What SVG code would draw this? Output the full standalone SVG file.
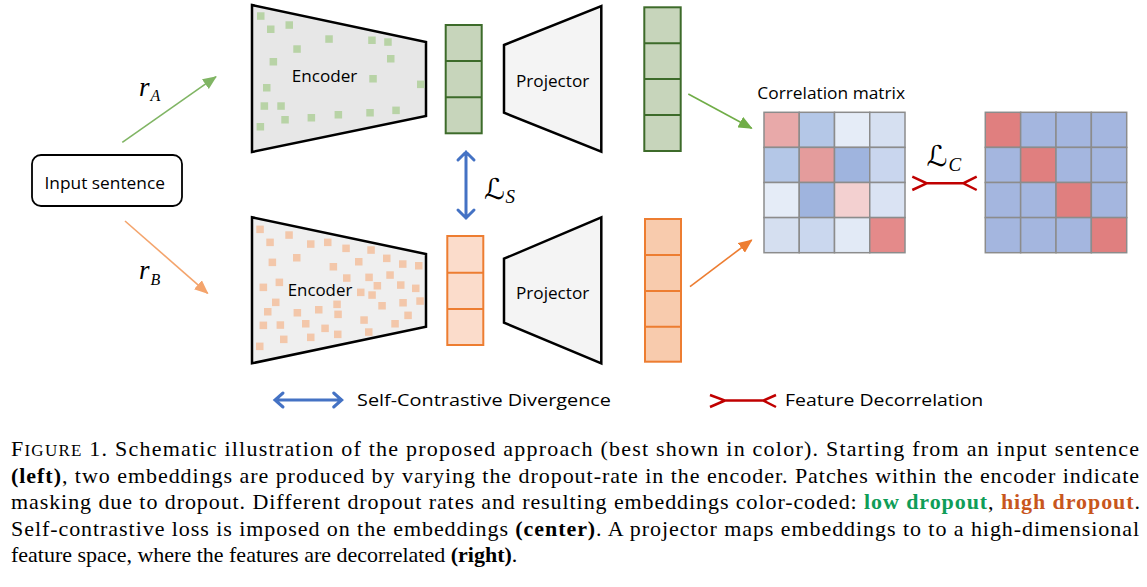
<svg xmlns="http://www.w3.org/2000/svg" width="1147" height="587" viewBox="0 0 1147 587">
<style>
.lbl{font-family:"Open Sans","Lato",sans-serif;fill:#000;}
.cap{font-family:"Liberation Serif","Times New Roman",serif;font-size:22px;fill:#000;}
.b{font-weight:bold;}
.math{font-family:"Liberation Serif",serif;font-style:italic;fill:#000;}
.scr{font-family:"DejaVu Serif","DejaVu Sans",serif;fill:#000;}
.enc{stroke:#000;stroke-width:2.5;stroke-linejoin:miter;}
.proj{fill:#f4f4f4;stroke:#000;stroke-width:2.5;}
.gsq{fill:#b3d1a0;opacity:0.9;}
.osq{fill:#f4c3a3;opacity:0.9;}
.gemb{fill:#c7d5bb;stroke:#3d6b2a;stroke-width:2;}
.oemb1{fill:#fbdccb;stroke:#ed7d31;stroke-width:2;}
.oemb2{fill:#f8cbad;stroke:#ed7d31;stroke-width:2;}
.grid{stroke:#8c8c8c;stroke-width:1.5;}
.blue{fill:none;stroke:#4472c4;stroke-width:3;stroke-linecap:round;}
.red{fill:none;stroke:#c00000;stroke-width:2.5;}
</style>
<defs>
<marker id="ag" markerWidth="14" markerHeight="12" refX="13" refY="6" orient="auto" markerUnits="userSpaceOnUse"><path d="M0,0 L14,6 L0,12 Z" fill="#70ad47"/></marker>
<marker id="ag2" markerWidth="14" markerHeight="12" refX="13" refY="6" orient="auto" markerUnits="userSpaceOnUse"><path d="M0,0 L14,6 L0,12 Z" fill="#80b564"/></marker>
<marker id="ao" markerWidth="14" markerHeight="12" refX="13" refY="6" orient="auto" markerUnits="userSpaceOnUse"><path d="M0,0 L14,6 L0,12 Z" fill="#ed7d31"/></marker>
<marker id="ao2" markerWidth="14" markerHeight="12" refX="13" refY="6" orient="auto" markerUnits="userSpaceOnUse"><path d="M0,0 L14,6 L0,12 Z" fill="#f4a46c"/></marker>
</defs>

<g id="input">
<rect x="32" y="155" width="150" height="51" rx="9" fill="#fff" stroke="#000" stroke-width="1.8"/>
<text class="lbl" x="44.5" y="188.5" font-size="17" textLength="120.5" lengthAdjust="spacingAndGlyphs">Input sentence</text>
</g>

<g id="encoderA">
<polygon class="enc" fill="#e7e7e7" points="252,5 426,42 426,116 252,152"/>
<g class="gsq">
<rect x="257" y="12.3" width="7.5" height="7.5"/><rect x="267" y="25.5" width="7.5" height="7.5"/><rect x="285.5" y="21.3" width="7.5" height="7.5"/>
<rect x="325.3" y="35.3" width="7.5" height="7.5"/><rect x="368.2" y="36.5" width="7.5" height="7.5"/><rect x="384.2" y="38.3" width="7.5" height="7.5"/>
<rect x="293.3" y="45.3" width="7.5" height="7.5"/><rect x="269.6" y="58" width="7.5" height="7.5"/><rect x="387" y="55" width="7.5" height="7.5"/>
<rect x="369.3" y="75" width="7.5" height="7.5"/><rect x="417" y="80.6" width="7.5" height="7.5"/><rect x="263" y="84" width="7.5" height="7.5"/>
<rect x="260.6" y="102.3" width="7.5" height="7.5"/><rect x="277.3" y="102.3" width="7.5" height="7.5"/><rect x="281.3" y="116" width="7.5" height="7.5"/>
<rect x="307.6" y="114" width="7.5" height="7.5"/><rect x="334.6" y="111" width="7.5" height="7.5"/><rect x="366.3" y="109" width="7.5" height="7.5"/>
<rect x="392.3" y="106.6" width="7.5" height="7.5"/><rect x="256.6" y="123" width="7.5" height="7.5"/>
</g>
<text class="lbl" x="291.7" y="81.7" font-size="17" textLength="65.6" lengthAdjust="spacingAndGlyphs">Encoder</text>
</g>

<g id="encoderB">
<polygon class="enc" fill="#efefef" points="252,217.3 426,254 426,326.7 252,363.3"/>
<g class="osq">
<rect x="256.3" y="225.6" width="7.5" height="7.5"/><rect x="266.3" y="238.6" width="7.5" height="7.5"/><rect x="285.3" y="231.3" width="7.5" height="7.5"/>
<rect x="307" y="240.3" width="7.5" height="7.5"/><rect x="324" y="238.6" width="7.5" height="7.5"/><rect x="342.3" y="244.6" width="7.5" height="7.5"/>
<rect x="367.3" y="246.3" width="7.5" height="7.5"/><rect x="293" y="254" width="7.5" height="7.5"/><rect x="268.6" y="258.6" width="7.5" height="7.5"/>
<rect x="329.6" y="263" width="7.5" height="7.5"/><rect x="355" y="258" width="7.5" height="7.5"/><rect x="383" y="254.6" width="7.5" height="7.5"/>
<rect x="399" y="260.3" width="7.5" height="7.5"/><rect x="415" y="262" width="7.5" height="7.5"/><rect x="343" y="274.3" width="7.5" height="7.5"/>
<rect x="365.3" y="273.6" width="7.5" height="7.5"/><rect x="386.3" y="271.3" width="7.5" height="7.5"/><rect x="275.6" y="278.6" width="7.5" height="7.5"/>
<rect x="259.6" y="283.6" width="7.5" height="7.5"/><rect x="373.6" y="282" width="7.5" height="7.5"/><rect x="397" y="281.3" width="7.5" height="7.5"/>
<rect x="412" y="284.6" width="7.5" height="7.5"/><rect x="357" y="288.6" width="7.5" height="7.5"/><rect x="368.3" y="291.3" width="7.5" height="7.5"/>
<rect x="272" y="298.6" width="7.5" height="7.5"/><rect x="333.3" y="300.6" width="7.5" height="7.5"/><rect x="416.3" y="297.3" width="7.5" height="7.5"/>
<rect x="399.3" y="299" width="7.5" height="7.5"/><rect x="378.3" y="302" width="7.5" height="7.5"/><rect x="264" y="308" width="7.5" height="7.5"/>
<rect x="293.6" y="309" width="7.5" height="7.5"/><rect x="315" y="306" width="7.5" height="7.5"/><rect x="334.3" y="310.6" width="7.5" height="7.5"/>
<rect x="404.3" y="311.6" width="7.5" height="7.5"/><rect x="360.3" y="316.3" width="7.5" height="7.5"/><rect x="259.6" y="321.6" width="7.5" height="7.5"/>
<rect x="276.6" y="321.3" width="7.5" height="7.5"/><rect x="302" y="320" width="7.5" height="7.5"/><rect x="321.3" y="324.6" width="7.5" height="7.5"/>
<rect x="391.3" y="320" width="7.5" height="7.5"/><rect x="280" y="335.6" width="7.5" height="7.5"/><rect x="307" y="333.6" width="7.5" height="7.5"/>
<rect x="334" y="330.6" width="7.5" height="7.5"/><rect x="365" y="328.3" width="7.5" height="7.5"/><rect x="256" y="342.6" width="7.5" height="7.5"/>
</g>
<text class="lbl" x="287.7" y="295.7" font-size="17" textLength="64.6" lengthAdjust="spacingAndGlyphs">Encoder</text>
</g>

<g id="embA">
<rect class="gemb" x="445.7" y="25" width="36" height="108.3"/>
<line class="gemb" x1="445.7" y1="61" x2="481.7" y2="61"/>
<line class="gemb" x1="445.7" y1="97.3" x2="481.7" y2="97.3"/>
</g>
<g id="embB">
<rect class="oemb1" x="447.3" y="236" width="36" height="109"/>
<line class="oemb1" x1="447.3" y1="272.7" x2="483.3" y2="272.7"/>
<line class="oemb1" x1="447.3" y1="309" x2="483.3" y2="309"/>
</g>

<g id="projA">
<polygon class="proj" points="504,45 601.3,6 601.3,151.7 504,112.7"/>
<text class="lbl" x="516" y="87.3" font-size="17" textLength="73.3" lengthAdjust="spacingAndGlyphs">Projector</text>
</g>
<g id="projB">
<polygon class="proj" points="504,258.7 601.3,217.3 601.3,363.3 504,322.7"/>
<text class="lbl" x="516" y="299" font-size="17" textLength="73.3" lengthAdjust="spacingAndGlyphs">Projector</text>
</g>

<g id="featA">
<rect class="gemb" x="644.3" y="7.3" width="36.4" height="143.7"/>
<line class="gemb" x1="644.3" y1="43.3" x2="680.7" y2="43.3"/>
<line class="gemb" x1="644.3" y1="79" x2="680.7" y2="79"/>
<line class="gemb" x1="644.3" y1="115" x2="680.7" y2="115"/>
</g>
<g id="featB">
<rect class="oemb2" x="645" y="219" width="36" height="142.7"/>
<line class="oemb2" x1="645" y1="255" x2="681" y2="255"/>
<line class="oemb2" x1="645" y1="291" x2="681" y2="291"/>
<line class="oemb2" x1="645" y1="326.7" x2="681" y2="326.7"/>
</g>

<g id="corr">
<text class="lbl" x="757.3" y="99" font-size="16" textLength="147.7" lengthAdjust="spacingAndGlyphs">Correlation matrix</text>
<g class="grid">
<rect x="764" y="112.3" width="35.25" height="35.1" fill="#e8a9a9"/><rect x="799.25" y="112.3" width="35.25" height="35.1" fill="#b4c7e7"/><rect x="834.5" y="112.3" width="35.25" height="35.1" fill="#e5ecf7"/><rect x="869.75" y="112.3" width="35.25" height="35.1" fill="#d6e0f1"/>
<rect x="764" y="147.4" width="35.25" height="35.1" fill="#b4c7e7"/><rect x="799.25" y="147.4" width="35.25" height="35.1" fill="#e49c9c"/><rect x="834.5" y="147.4" width="35.25" height="35.1" fill="#9fb4de"/><rect x="869.75" y="147.4" width="35.25" height="35.1" fill="#c9d6ee"/>
<rect x="764" y="182.5" width="35.25" height="35.1" fill="#e5ecf7"/><rect x="799.25" y="182.5" width="35.25" height="35.1" fill="#9fb4de"/><rect x="834.5" y="182.5" width="35.25" height="35.1" fill="#f3d0d0"/><rect x="869.75" y="182.5" width="35.25" height="35.1" fill="#dae3f3"/>
<rect x="764" y="217.6" width="35.25" height="35.1" fill="#d5dff0"/><rect x="799.25" y="217.6" width="35.25" height="35.1" fill="#cad7ee"/><rect x="834.5" y="217.6" width="35.25" height="35.1" fill="#e2eaf6"/><rect x="869.75" y="217.6" width="35.25" height="35.1" fill="#e48a8a"/>
</g>
</g>

<g id="target">
<g class="grid">
<rect x="985.3" y="112.3" width="35.35" height="35.1" fill="#e07f7f"/><rect x="1020.65" y="112.3" width="35.35" height="35.1" fill="#a4b6df"/><rect x="1056" y="112.3" width="35.35" height="35.1" fill="#a4b6df"/><rect x="1091.35" y="112.3" width="35.35" height="35.1" fill="#a4b6df"/>
<rect x="985.3" y="147.4" width="35.35" height="35.1" fill="#a4b6df"/><rect x="1020.65" y="147.4" width="35.35" height="35.1" fill="#e07f7f"/><rect x="1056" y="147.4" width="35.35" height="35.1" fill="#a4b6df"/><rect x="1091.35" y="147.4" width="35.35" height="35.1" fill="#a4b6df"/>
<rect x="985.3" y="182.5" width="35.35" height="35.1" fill="#a4b6df"/><rect x="1020.65" y="182.5" width="35.35" height="35.1" fill="#a4b6df"/><rect x="1056" y="182.5" width="35.35" height="35.1" fill="#e07f7f"/><rect x="1091.35" y="182.5" width="35.35" height="35.1" fill="#a4b6df"/>
<rect x="985.3" y="217.6" width="35.35" height="35.1" fill="#a4b6df"/><rect x="1020.65" y="217.6" width="35.35" height="35.1" fill="#a4b6df"/><rect x="1056" y="217.6" width="35.35" height="35.1" fill="#a4b6df"/><rect x="1091.35" y="217.6" width="35.35" height="35.1" fill="#e07f7f"/>
</g>
</g>

<g id="connectors">
<line x1="122.3" y1="142.3" x2="216" y2="76.7" stroke="#80b564" stroke-width="1.6" marker-end="url(#ag2)"/>
<line x1="125" y1="221" x2="207.7" y2="293.3" stroke="#f4a46c" stroke-width="1.6" marker-end="url(#ao2)"/>
<line x1="688.3" y1="94" x2="751.7" y2="128.3" stroke="#70ad47" stroke-width="1.6" marker-end="url(#ag)"/>
<line x1="690" y1="286.7" x2="751.7" y2="240" stroke="#ed7d31" stroke-width="1.6" marker-end="url(#ao)"/>
<path class="blue" d="M466,152 L466,218 M458,160 L466,152 L474,160 M458,210 L466,218 L474,210"/>
<path class="red" d="M912.3,176.7 L926.7,183.3 L912.3,190 M926.7,183.3 L963.3,183.3 M976.7,176.7 L963.3,183.3 L976.7,190"/>
</g>

<g id="mathlabels">
<text class="math" x="139" y="95.5" font-size="27">r</text><text class="math" x="150.5" y="100.7" font-size="16">A</text>
<text class="math" x="139" y="278.8" font-size="27">r</text><text class="math" x="150.5" y="285" font-size="16">B</text>
<text class="scr" x="484" y="198.5" font-size="29">ℒ</text><text class="math" x="505.5" y="203.3" font-size="19">S</text>
<text class="scr" x="926.5" y="165.5" font-size="29">ℒ</text><text class="math" x="948.5" y="170.7" font-size="19">C</text>
</g>

<g id="legend">
<path class="blue" d="M275,400 L341.7,400 M283,393 L275,400 L283,407 M333.7,393 L341.7,400 L333.7,407"/>
<text class="lbl" x="357" y="405.5" font-size="17" textLength="254" lengthAdjust="spacingAndGlyphs">Self-Contrastive Divergence</text>
<path class="red" d="M710,395 L725,400.5 L710,407 M725,400.5 L763.3,400.5 M776,395 L763.3,400.5 L776,407"/>
<text class="lbl" x="785" y="406" font-size="17" textLength="198.3" lengthAdjust="spacingAndGlyphs">Feature Decorrelation</text>
</g>

<g id="caption">
<text class="cap" x="11" y="456" textLength="1128" lengthAdjust="spacing">F<tspan font-size="17">IGURE</tspan> 1. Schematic illustration of the proposed approach (best shown in color). Starting from an input sentence</text>
<text class="cap" x="11" y="482.5" textLength="1128" lengthAdjust="spacing"><tspan class="b">(left)</tspan>, two embeddings are produced by varying the dropout-rate in the encoder. Patches within the encoder indicate</text>
<text class="cap" x="11" y="509" textLength="1129" lengthAdjust="spacing">masking due to dropout. Different dropout rates and resulting embeddings color-coded: <tspan class="b" fill="#0f9d58">low dropout</tspan>, <tspan class="b" fill="#c8561d">high dropout</tspan>.</text>
<text class="cap" x="11" y="535.5" textLength="1128" lengthAdjust="spacing">Self-contrastive loss is imposed on the embeddings <tspan class="b">(center)</tspan>. A projector maps embeddings to to a high-dimensional</text>
<text class="cap" x="11" y="562">feature space, where the features are decorrelated <tspan class="b">(right)</tspan>.</text>
</g>
</svg>
